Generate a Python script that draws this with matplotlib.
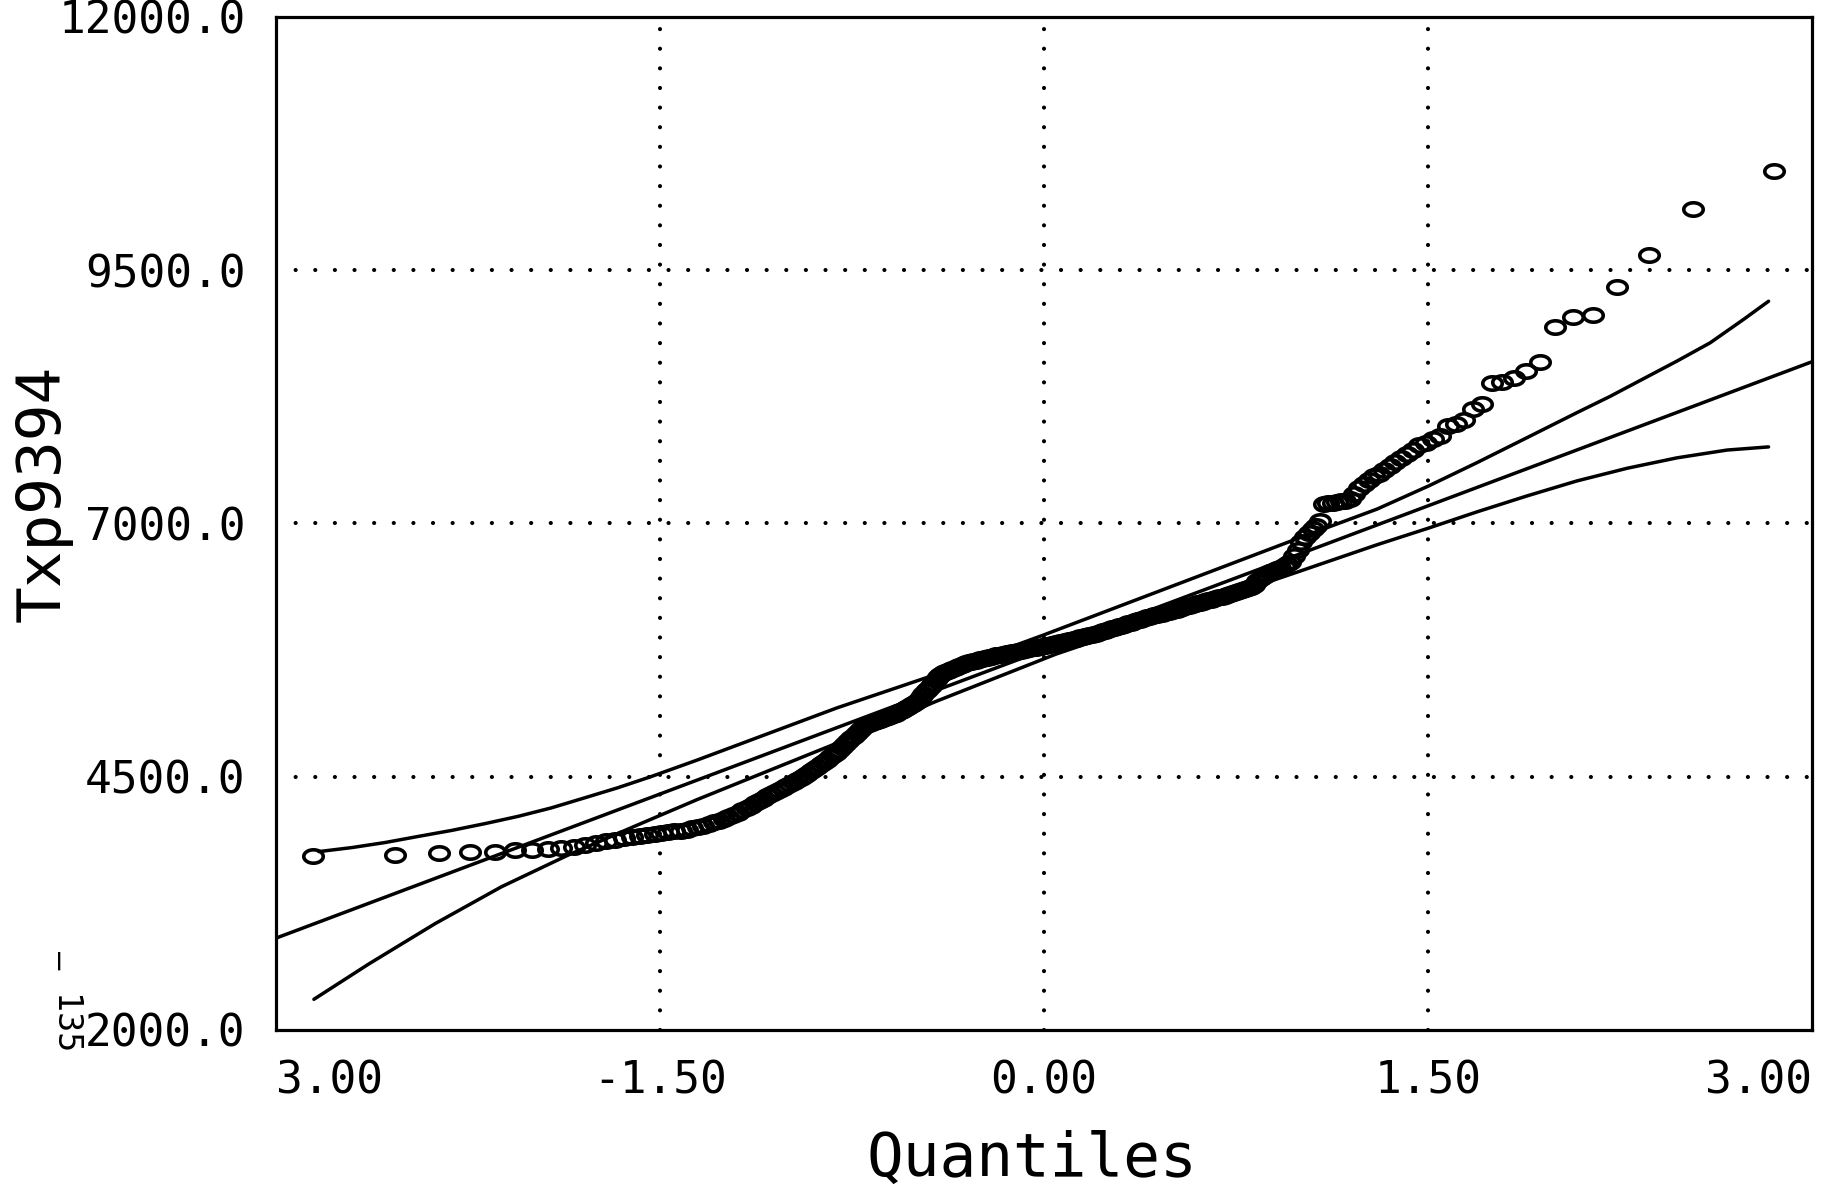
import numpy as np
import matplotlib
matplotlib.use("Agg")
import matplotlib.pyplot as plt
from matplotlib.path import Path
from statistics import NormalDist

# ---------------- data ----------------
sample_values = [
    3719, 3729, 3752, 3755, 3761, 3778, 3780, 3785, 3801, 3811,
    3825, 3843, 3861, 3876, 3891, 3906, 3917, 3926, 3936, 3945,
    3953, 3961, 3969, 3978, 3990, 4004, 4018, 4032, 4049, 4068,
    4087, 4106, 4125, 4145, 4168, 4191, 4215, 4238, 4261, 4284,
    4305, 4325, 4346, 4366, 4387, 4407, 4428, 4448, 4469, 4490,
    4511, 4532, 4553, 4575, 4598, 4622, 4645, 4669, 4692, 4716,
    4739, 4763, 4792, 4820, 4849, 4878, 4907, 4935, 4964, 4993,
    5014, 5023, 5032, 5041, 5050, 5059, 5068, 5077, 5086, 5095,
    5109, 5122, 5136, 5150, 5163, 5177, 5191, 5204, 5218, 5233,
    5261, 5288, 5316, 5343, 5371, 5399, 5426, 5454, 5481, 5509,
    5526, 5535, 5545, 5555, 5564, 5574, 5583, 5593, 5603, 5612,
    5622, 5629, 5635, 5641, 5646, 5652, 5658, 5664, 5670, 5675,
    5681, 5687, 5692, 5697, 5701, 5705, 5710, 5714, 5718, 5723,
    5727, 5731, 5736, 5740, 5744, 5749, 5753, 5757, 5762, 5766,
    5770, 5775, 5779, 5784, 5788, 5793, 5798, 5803, 5808, 5813,
    5818, 5823, 5828, 5833, 5838, 5843, 5848, 5853, 5859, 5864,
    5870, 5875, 5880, 5886, 5891, 5897, 5902, 5907, 5914, 5921,
    5928, 5935, 5942, 5949, 5957, 5964, 5971, 5978, 5985, 5992,
    5999, 6007, 6014, 6022, 6029, 6037, 6044, 6052, 6059, 6067,
    6074, 6080, 6086, 6092, 6098, 6104, 6110, 6116, 6122, 6128,
    6134, 6142, 6150, 6158, 6165, 6173, 6181, 6189, 6197, 6204,
    6212, 6219, 6226, 6234, 6241, 6248, 6255, 6262, 6270, 6277,
    6285, 6294, 6303, 6313, 6322, 6331, 6340, 6349, 6359, 6370,
    6390, 6430, 6465, 6485, 6505, 6520, 6535, 6550, 6565, 6580,
    6597, 6615, 6680, 6740, 6815, 6870, 6905, 6945, 6975, 7020,
    7195, 7200, 7205, 7210, 7218, 7225, 7238, 7290, 7350, 7390,
    7430, 7465, 7490, 7530, 7570, 7610, 7650, 7690, 7730, 7770,
    7790, 7833, 7865, 7963, 7980, 8022, 8127, 8176, 8382, 8394,
    8437, 8502, 8591, 8943, 9041, 9058, 9335, 9652, 10103, 10479,
]

fit_x = [-3.0, 3.0]
fit_y = [2907, 8595]

upper_x = [-2.833, -2.703, -2.573, -2.444, -2.314, -2.184, -2.054, -1.925,
           -1.795, -1.665, -1.536, -1.354, -0.809, -0.42, 0.0, 0.98,
           1.302, 1.504, 1.693, 1.888, 2.083, 2.213, 2.344, 2.474,
           2.604, 2.734, 2.832]
upper_y = [3761, 3801, 3851, 3911, 3970, 4037, 4109, 4192,
           4291, 4391, 4500, 4665, 5179, 5511, 5900, 6840,
           7142, 7371, 7601, 7847, 8094, 8255, 8430, 8603,
           8784, 9014, 9194]

lower_x = [-2.852, -2.638, -2.379, -2.119, -1.86, -1.60, -1.354, -0.809,
           -0.42, 0.047, 0.99, 1.302, 1.504, 1.693, 1.888, 2.083,
           2.279, 2.474, 2.67, 2.832]
lower_y = [2303, 2651, 3049, 3414, 3725, 4010, 4275, 4831,
           5245, 5710, 6520, 6790, 6955, 7115, 7272, 7420,
           7545, 7648, 7725, 7756]

x_ticks = [-3.0, -1.5, 0.0, 1.5, 3.0]
x_tick_labels = ["3.00", "-1.50", "0.00", "1.50", "3.00"]
y_ticks = [2000, 4500, 7000, 9500, 12000]
y_tick_labels = ["2000.0", "4500.0", "7000.0", "9500.0", "12000.0"]
x_grid = [-1.5, 0.0, 1.5]
y_grid = [4500, 7000, 9500]

# theoretical normal quantiles of the sorted sample (Blom positions)
n = len(sample_values)
nd = NormalDist()
quantiles = [nd.inv_cdf((i - 0.375) / (n + 0.25)) for i in range(1, n + 1)]

# ---------------- figure ----------------
FONT = "DejaVu Sans Mono"
plt.rcParams["font.family"] = [FONT, "DejaVu Sans"]

fig = plt.figure(figsize=(18.28, 11.88), dpi=100)
ax = fig.add_axes([0.151, 0.133, 0.840, 0.8527])
ax.set_xlim(-3.0, 3.0)
ax.set_ylim(2000, 12000)

dot = dict(color="black", lw=3.0, linestyle=(0, (0.01, 4.7)),
           dash_capstyle="round", zorder=1)
for gx in x_grid:
    ax.axvline(gx, **dot)
for gy in y_grid:
    ax.axhline(gy, **dot)

line_kw = dict(color="black", lw=2.5, zorder=2, solid_capstyle="round",
               solid_joinstyle="round")
ax.plot(fit_x, fit_y, **line_kw)
ax.plot(upper_x, upper_y, **line_kw)
ax.plot(lower_x, lower_y, **line_kw)

t = np.linspace(0, 2 * np.pi, 41)
ellipse = Path(np.column_stack([1.45 * np.cos(t), np.sin(t)]), closed=True)
ax.plot(quantiles, sample_values, linestyle="none", marker=ellipse,
        markersize=14, markerfacecolor="none", markeredgecolor="black",
        markeredgewidth=2.6, zorder=3)

for s in ax.spines.values():
    s.set_linewidth(2.3)
    s.set_color("black")

ax.set_xticks(x_ticks)
ax.set_xticklabels(x_tick_labels, fontsize=32, family=FONT)
ax.set_yticks(y_ticks)
ax.set_yticklabels(y_tick_labels, fontsize=32, family=FONT)
ax.tick_params(axis="both", length=0)
ax.tick_params(axis="x", pad=21)
ax.tick_params(axis="y", pad=22)
xl = ax.get_xticklabels()
xl[0].set_ha("left")
xl[-1].set_ha("right")

fig.text(0.5646, 0.024, "Quantiles", fontsize=44, family=FONT,
         ha="center", va="center")
fig.text(0.0235, 0.585, "Txp9394", fontsize=44, family=FONT,
         rotation=90, ha="center", va="center")

fig.text(0.032, 0.192, "\u2014", rotation=-90, fontsize=22, family=FONT,
         ha="center", va="center")
fig.text(0.035, 0.137, "135", rotation=-90, fontsize=24, family=FONT,
         ha="center", va="center")

fig.savefig("out.png", dpi=100, facecolor="white")
